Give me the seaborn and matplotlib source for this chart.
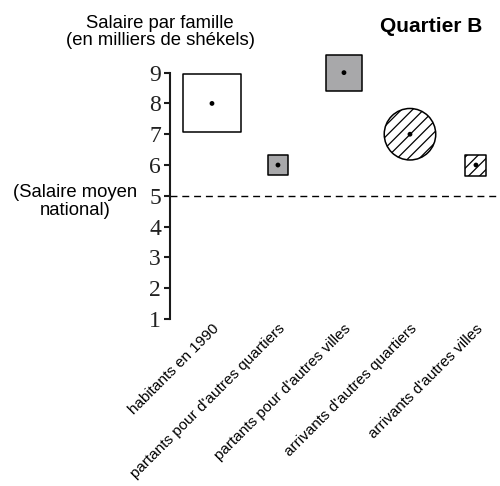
import matplotlib
matplotlib.use("Agg")
import matplotlib.pyplot as plt
import seaborn as sns
import pandas as pd

# ---- data ----
categories = [
    "habitants en 1990",
    "partants pour d'autres quartiers",
    "partants pour d'autres villes",
    "arrivants d'autres quartiers",
    "arrivants d'autres villes",
]
salaries = [8, 6, 9, 7, 6]
national_mean = 5
yticks = [1, 2, 3, 4, 5, 6, 7, 8, 9]
title_text = "Quartier B"
ylabel_text = "Salaire par famille\n(en milliers de shékels)"
mean_label = "(Salaire moyen\nnational)"

# ---- marker encodings (visual) ----
marker_area = [1714, 197, 691, 1375, 229]
marker_shape = ["s", "s", "s", "o", "s"]
GREY = "#a8a8aa"
marker_fill = ["white", GREY, GREY, "white", "white"]
marker_hatch = [None, None, None, "///", "///"]

sns.set_theme(style="ticks")
plt.rcParams["font.family"] = ["Liberation Sans", "DejaVu Sans"]
plt.rcParams["text.color"] = "black"
plt.rcParams["xtick.color"] = "black"
plt.rcParams["ytick.color"] = "black"
plt.rcParams["hatch.color"] = "black"
plt.rcParams["hatch.linewidth"] = 0.9

W, H = 500, 486
fig = plt.figure(figsize=(W / 100, H / 100), dpi=100)
ax_left, ax_right = 170, 500
ax_bottom_px, ax_top_px = 319, 48
ax = fig.add_axes([ax_left / W, (H - ax_bottom_px) / H,
                   (ax_right - ax_left) / W, (ax_bottom_px - ax_top_px) / H])

df = pd.DataFrame({"pos": list(range(len(categories))), "salary": salaries})

for i, row in df.iterrows():
    sns.scatterplot(x=[row["pos"]], y=[row["salary"]], ax=ax,
                    marker=marker_shape[i], s=marker_area[i],
                    color=marker_fill[i], edgecolor="black", linewidth=1.1,
                    hatch=marker_hatch[i], zorder=3, clip_on=False, legend=False)

sns.scatterplot(data=df, x="pos", y="salary", ax=ax, color="black", s=12,
                edgecolor="none", zorder=4, clip_on=False, legend=False)

ax.axhline(national_mean, color="black", lw=1.0, dashes=(5, 3.5), zorder=2)

ax.set_xlim(-0.636, 4.364)
ax.set_ylim(1, 9.8)

sns.despine(ax=ax, bottom=True)
ax.spines["left"].set_bounds(1, 9)
ax.spines["left"].set_linewidth(1.5)
ax.spines["left"].set_color("#1a1a1a")

ax.set_yticks(yticks)
ax.set_yticklabels([str(t) for t in yticks], fontfamily="Liberation Serif",
                   fontsize=17, color="#222222")
ax.tick_params(axis="y", direction="out", length=4.5, width=1.5,
               color="#1a1a1a", pad=2)

ax.set_xticks(df["pos"])
ax.set_xticklabels(categories, rotation=45, ha="right", va="top",
                   rotation_mode="anchor", fontsize=11, color="black")
ax.tick_params(axis="x", length=0, pad=2)

ax.set_xlabel("")
ax.set_ylabel("")

fig.text(160 / W, 1 - 32 / H, ylabel_text, ha="center", va="center",
         fontsize=13.3, linespacing=1.05)
fig.text(75.5 / W, 1 - 201.5 / H, mean_label, ha="center", va="center",
         multialignment="center", fontsize=13.3, linespacing=1.05)
fig.text(431.5 / W, 1 - 26 / H, title_text, ha="center", va="center",
         fontsize=15, fontweight="bold")

fig.savefig("out.png", dpi=100)
